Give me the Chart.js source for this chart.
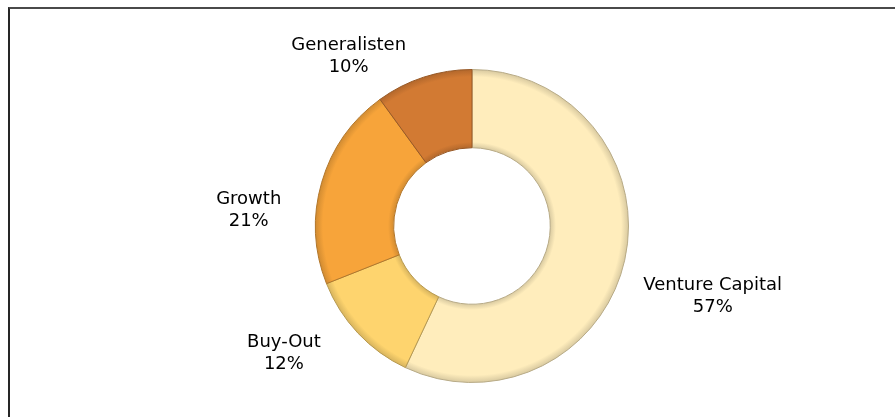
<!DOCTYPE html>
<html>
<head>
<meta charset="utf-8">
<script src="https://cdn.jsdelivr.net/npm/chart.js@4/dist/chart.umd.min.js"></script>
<style>
  html, body { margin: 0; padding: 0; background: #fff; overflow: hidden; }
  #wrap { position: absolute; left: 0; top: 0; width: 895px; height: 417px; }
  #frame {
    position: absolute; left: 8px; top: 7px; right: -10px; bottom: -10px;
    border-left: 2px solid #262626; border-top: 2px solid #4a4a4a;
    pointer-events: none;
  }
</style>
</head>
<body>
<div id="wrap">
  <canvas id="donut" width="895" height="417"></canvas>
  <div id="frame"></div>
</div>
<script>
// Daten (Anteile in %), Reihenfolge im Uhrzeigersinn ab 12 Uhr
const segments = ['Venture Capital', 'Buy-Out', 'Growth', 'Generalisten'];
const shares = [57, 12, 21, 10];
const shareLabels = ['57%', '12%', '21%', '10%'];

// Farben
const baseColors = ['#FFEDBC', '#FED46E', '#F7A43A', '#D27A33'];

// Beschriftung: Versatz vom Außenrand (Mitte des Segments) in px
const labelShift = [[88, 30], [-74, 14], [-73, 22], [-75, -27]];

function shade(hex, f) {
    const n = parseInt(hex.slice(1), 16);
    const r = Math.round(((n >> 16) & 255) * f);
    const g = Math.round(((n >> 8) & 255) * f);
    const b = Math.round((n & 255) * f);
    return `rgb(${r},${g},${b})`;
}

function bevelFill(ctx) {
    const chart = ctx.chart;
    const area = chart.chartArea;
    const base = baseColors[ctx.dataIndex];
    if (!area) return base;
    const cx = (area.left + area.right) / 2;
    const cy = (area.top + area.bottom) / 2;
    const R = Math.min(area.right - area.left, area.bottom - area.top) / 2;
    const r = R * 0.5;
    const g = chart.ctx.createRadialGradient(cx, cy, r, cx, cy, R);
    g.addColorStop(0, shade(base, 0.86));
    g.addColorStop(0.07, base);
    g.addColorStop(0.5, base);
    g.addColorStop(0.9, base);
    g.addColorStop(1, shade(base, 0.84));
    return g;
}

const outsideLabels = {
    id: 'outsideLabels',
    afterDatasetsDraw(chart) {
        const c = chart.ctx;
        const meta = chart.getDatasetMeta(0);
        c.save();
        c.font = '18px "DejaVu Sans", Verdana, sans-serif';
        c.fillStyle = '#000';
        c.textAlign = 'center';
        c.textBaseline = 'alphabetic';
        meta.data.forEach((arc, i) => {
            const p = arc.getProps(['x', 'y', 'startAngle', 'endAngle', 'outerRadius'], true);
            const mid = (p.startAngle + p.endAngle) / 2;
            const ex = p.x + Math.cos(mid) * p.outerRadius;
            const ey = p.y + Math.sin(mid) * p.outerRadius;
            const x = ex + labelShift[i][0];
            const y = ey + labelShift[i][1];
            c.fillText(segments[i], x, y);
            c.fillText(shareLabels[i], x, y + 22);
        });
        c.restore();
    }
};

new Chart(document.getElementById('donut'), {
    type: 'doughnut',
    data: {
        labels: segments,
        datasets: [{
            data: shares,
            backgroundColor: bevelFill,
            borderColor: baseColors.map(c => shade(c, 0.72)),
            borderWidth: 1
        }]
    },
    options: {
        responsive: false,
        animation: false,
        cutout: '50%',
        layout: { padding: { top: 69, bottom: 34, left: 49, right: 0 } },
        plugins: {
            legend: { display: false },
            tooltip: { enabled: false }
        }
    },
    plugins: [outsideLabels]
});
</script>
</body>
</html>
